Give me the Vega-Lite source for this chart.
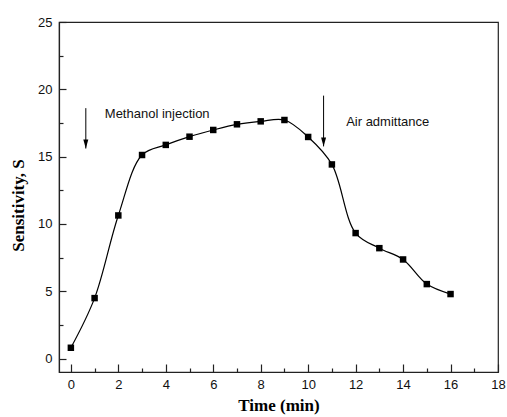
{
  "$schema": "https://vega.github.io/schema/vega-lite/v6.json",
  "width": 439,
  "height": 350,
  "autosize": "none",
  "padding": {"left": 59, "top": 22, "right": 9, "bottom": 45},
  "background": "white",
  "config": {
    "view": {"stroke": "#222", "strokeWidth": 1.2},
    "axis": {
      "grid": false,
      "domainColor": "#222",
      "domainWidth": 1.2,
      "tickColor": "#222",
      "tickWidth": 1.2,
      "labelFont": "Liberation Sans",
      "labelFontSize": 13,
      "labelColor": "#111",
      "titleFont": "Liberation Serif",
      "titleFontSize": 17,
      "titleFontWeight": "bold",
      "titleColor": "#000",
      "labelOverlap": false,
      "labelFlush": false
    }
  },
  "datasets": {
    "main": [
      {"t": 0, "s": 0.8},
      {"t": 1, "s": 4.49},
      {"t": 2, "s": 10.63},
      {"t": 3, "s": 15.12},
      {"t": 4, "s": 15.87},
      {"t": 5, "s": 16.48},
      {"t": 6, "s": 16.98},
      {"t": 7, "s": 17.4},
      {"t": 8, "s": 17.62},
      {"t": 9, "s": 17.72},
      {"t": 10, "s": 16.46},
      {"t": 11, "s": 14.42},
      {"t": 12, "s": 9.32},
      {"t": 13, "s": 8.2},
      {"t": 14, "s": 7.36},
      {"t": 15, "s": 5.53},
      {"t": 16, "s": 4.79}
    ],
    "arrows": [
      {"t": 0.63, "top": 18.6, "tip": 15.6},
      {"t": 10.65, "top": 19.53, "tip": 15.76}
    ],
    "labels": [
      {"t": 1.43, "s": 18.14, "text": "Methanol injection"},
      {"t": 11.6, "s": 17.55, "text": "Air admittance"}
    ]
  },
  "resolve": {"axis": {"x": "independent", "y": "independent"}},
  "layer": [
    {
      "data": {"name": "main"},
      "mark": {"type": "line", "interpolate": "catmull-rom", "color": "#000", "strokeWidth": 1.2},
      "encoding": {
        "x": {
          "field": "t", "type": "quantitative",
          "scale": {"domain": [-0.5, 18], "nice": false, "zero": false},
          "axis": {
            "orient": "bottom",
            "title": "Time (min)",
            "values": [0,2,4,6,8,10,12,14,16,18],
            "format": "d",
            "ticks": false,
            "labelPadding": 6,
            "titlePadding": 6
          }
        },
        "y": {
          "field": "s", "type": "quantitative",
          "scale": {"domain": [-1, 25], "nice": false, "zero": false},
          "axis": {
            "orient": "left",
            "title": "Sensitivity, S",
            "values": [0,5,10,15,20,25],
            "format": "d",
            "ticks": false,
            "labelPadding": 7,
            "titlePadding": 10,
            "titleY": 183
          }
        }
      }
    },
    {
      "data": {"name": "main"},
      "mark": {"type": "point", "shape": "square", "filled": true, "color": "#000", "size": 42, "opacity": 1},
      "encoding": {
        "x": {"field": "t", "type": "quantitative",
          "axis": {"orient": "bottom", "values": [1,3,5,7,9,11,13,15,17], "labels": false, "domain": false, "title": null, "tickSize": -4}},
        "y": {"field": "s", "type": "quantitative",
          "axis": {"orient": "left", "values": [2.5,7.5,12.5,17.5,22.5], "labels": false, "domain": false, "title": null, "tickSize": -4}}
      }
    },
    {
      "data": {"name": "arrows"},
      "mark": {"type": "rule", "color": "#000", "strokeWidth": 1},
      "encoding": {
        "x": {"field": "t", "type": "quantitative",
          "axis": {"orient": "bottom", "values": [0,2,4,6,8,10,12,14,16,18], "labels": false, "domain": false, "title": null, "tickSize": -8}},
        "y": {"field": "top", "type": "quantitative",
          "axis": {"orient": "left", "values": [0,5,10,15,20,25], "labels": false, "domain": false, "title": null, "tickSize": -7}},
        "y2": {"field": "tip"}
      }
    },
    {
      "data": {"name": "arrows"},
      "mark": {"type": "point", "shape": "M-0.5,-1.8L0,0L0.5,-1.8Z", "filled": true, "color": "#000", "size": 100, "opacity": 1},
      "encoding": {
        "x": {"field": "t", "type": "quantitative", "axis": null},
        "y": {"field": "tip", "type": "quantitative", "axis": null}
      }
    },
    {
      "data": {"name": "labels"},
      "mark": {"type": "text", "align": "left", "baseline": "middle", "font": "Liberation Sans", "fontSize": 13, "color": "#111"},
      "encoding": {
        "x": {"field": "t", "type": "quantitative", "axis": null},
        "y": {"field": "s", "type": "quantitative", "axis": null},
        "text": {"field": "text"}
      }
    }
  ]
}
